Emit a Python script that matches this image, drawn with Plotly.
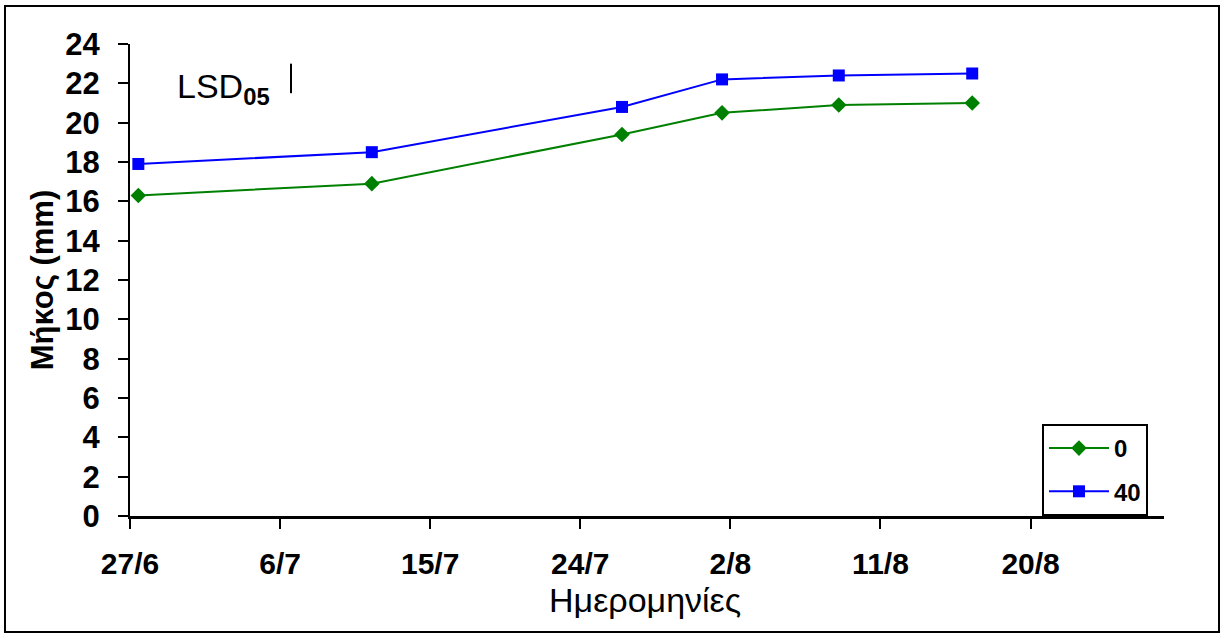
import pandas as pd
import plotly.graph_objects as go

# Sampling dates and measured length (mm) for the two treatments
dates = ["2005-06-27", "2005-07-11", "2005-07-26", "2005-08-01", "2005-08-08", "2005-08-16"]
length_0 = [16.3, 16.9, 19.4, 20.5, 20.9, 21.0]
length_40 = [17.9, 18.5, 20.8, 22.2, 22.4, 22.5]

tick_dates = ["2005-06-27", "2005-07-06", "2005-07-15", "2005-07-24", "2005-08-02", "2005-08-11", "2005-08-20"]
tick_labels = ["27/6", "6/7", "15/7", "24/7", "2/8", "11/8", "20/8"]

lsd05 = 1.5
lsd_base = 21.5

# points sit in the middle of their day on the date axis
x = pd.to_datetime(dates) + pd.Timedelta(hours=12)

FONT = "Liberation Sans"

fig = go.Figure()
fig.add_trace(go.Scatter(
    x=x, y=length_0, name="0", mode="lines+markers", legendgroup="a",
    line=dict(color="#008000", width=2),
    marker=dict(symbol="diamond", size=12, color="#008000"),
))
fig.add_trace(go.Scatter(
    x=x, y=length_40, name="40", mode="lines+markers", legendgroup="b",
    line=dict(color="#0000FF", width=2),
    marker=dict(symbol="square", size=12, color="#0000FF"),
))

fig.update_layout(
    width=1225, height=636,
    margin=dict(l=130, r=61, t=44, b=120),
    paper_bgcolor="white", plot_bgcolor="white",
    font=dict(family=FONT, color="black"),
    showlegend=True,
    legend=dict(
        x=0.882, y=0.0, xanchor="left", yanchor="bottom",
        bgcolor="white", bordercolor="black", borderwidth=2,
        font=dict(family=FONT, size=24, color="black", weight="bold"),
        tracegroupgap=9, traceorder="grouped", itemwidth=60,
    ),
    xaxis=dict(
        type="date",
        range=["2005-06-27", "2005-08-28"],
        tickvals=pd.to_datetime(tick_dates), ticktext=tick_labels,
        ticks="outside", ticklen=10, tickwidth=2, tickcolor="black",
        showline=True, linecolor="black", linewidth=3,
        showgrid=False, zeroline=False,
        tickfont=dict(family=FONT, size=30, color="black", weight="bold"),
        ticklabelstandoff=9,
    ),
    yaxis=dict(
        range=[0, 24], dtick=2,
        ticks="outside", ticklen=10, tickwidth=2, tickcolor="black",
        showline=True, linecolor="black", linewidth=2,
        showgrid=False, zeroline=False,
        tickfont=dict(family=FONT, size=31, color="black", weight="bold"),
        ticklabelstandoff=12,
        title=dict(text="Μήκος (mm)", font=dict(family=FONT, size=31, color="black", weight="bold"), standoff=2),
    ),
)

# x-axis title
fig.add_annotation(
    x=0.498, y=-0.1775, xref="paper", yref="paper", xanchor="center", yanchor="middle",
    text="Ημερομηνίες", showarrow=False,
    font=dict(family=FONT, size=34, color="black"),
)

# LSD annotation and its bar
fig.add_annotation(
    x=0.0435, y=0.905, xref="paper", yref="paper", xanchor="left", yanchor="middle",
    text="LSD<sub><b>05</b></sub>", showarrow=False,
    font=dict(family=FONT, size=34, color="black"),
)
fig.add_shape(type="line", xref="paper", yref="y",
              x0=0.1557, x1=0.1557, y0=lsd_base, y1=lsd_base + lsd05,
              line=dict(color="black", width=2))

# outer frame around the whole chart
fig.add_shape(type="rect", xref="paper", yref="paper",
              x0=-0.1209, x1=1.0532, y0=-0.2458, y1=1.0805,
              line=dict(color="black", width=2), fillcolor="rgba(0,0,0,0)", layer="below")

fig.write_html("out.html")
